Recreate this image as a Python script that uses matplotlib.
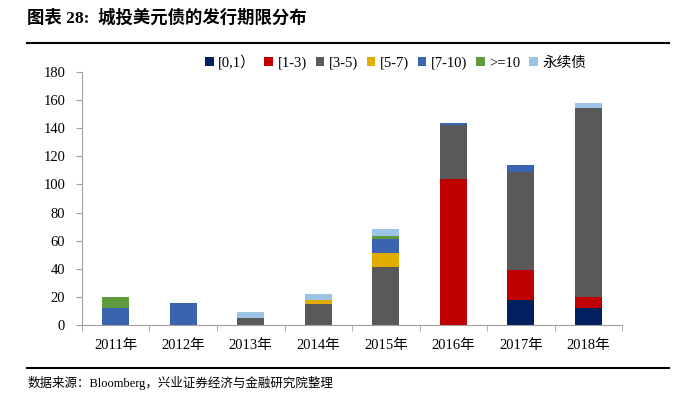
import numpy as np
import matplotlib.pyplot as plt
import matplotlib.lines as mlines

years = ['2011年', '2012年', '2013年', '2014年', '2015年', '2016年', '2017年', '2018年']
series_names = ['[0,1）', '[1-3)', '[3-5)', '[5-7)', '[7-10)', '>=10', '永续债']
v_0_1 = [0, 0, 0, 0, 0, 0, 18, 12]
v_1_3 = [0, 0, 0, 0, 0, 104, 21, 8]
v_3_5 = [0, 0, 5, 15, 41, 38, 70, 134]
v_5_7 = [0, 0, 0, 3, 10, 0, 0, 0]
v_7_10 = [12, 16, 0, 0, 10, 2, 5, 0]
v_10 = [8, 0, 0, 0, 2, 0, 0, 0]
v_perp = [0, 0, 4, 4, 5.5, 0, 0, 4]
colors = ['#002060', '#C00000', '#595959', '#E3AC00', '#3A63B0', '#5E9A3B', '#9DC3E6']

fam = ['Liberation Serif', 'Noto Sans CJK SC']
plt.rcParams['font.family'] = fam

fig = plt.figure(figsize=(7, 3.95), dpi=100)
ax = fig.add_axes([0.117, 0.177, 0.772, 0.641])

x = np.arange(len(years))
bottom = np.zeros(len(years))
for name, vals, c in zip(series_names, [v_0_1, v_1_3, v_3_5, v_5_7, v_7_10, v_10, v_perp], colors):
    ax.bar(x, vals, 0.4, bottom=bottom, color=c, label=name)
    bottom += np.array(vals)

ax.set_xlim(-0.5, len(years) - 0.5)
ax.set_ylim(0, 180)
ax.set_yticks(range(0, 181, 20))
ax.set_xticks(x)
ax.set_xticklabels(years, fontsize=10.5)
ax.set_xticks(np.arange(-0.5, len(years), 1), minor=True)
ax.tick_params(axis='x', which='major', length=0, pad=10)
ax.tick_params(axis='x', which='minor', length=4, direction='out', color='#A0A0A0')
ax.tick_params(axis='y', length=4, direction='out', color='#A0A0A0', labelsize=10.5, pad=8)
for s in ['top', 'right']:
    ax.spines[s].set_visible(False)
ax.spines['left'].set_color('#A0A0A0')
ax.spines['bottom'].set_color('#A0A0A0')

ax.legend(loc='upper center', bbox_to_anchor=(0.58, 1.12), ncol=7, frameon=False,
          handlelength=0.6, handleheight=0.6, handletextpad=0.3, columnspacing=0.6,
          fontsize=10.5)

fig.text(0.039, 0.955, '图表 28:  城投美元债的发行期限分布', fontsize=12.5, fontweight='bold',
         va='center', family=['Liberation Serif', 'Noto Sans CJK SC'])
fig.add_artist(mlines.Line2D([0.039, 0.955], [0.891, 0.891], color='black', lw=1.5))
fig.add_artist(mlines.Line2D([0.039, 0.955], [0.068, 0.068], color='black', lw=1.5))
fig.text(0.039, 0.03, '数据来源：Bloomberg，兴业证券经济与金融研究院整理', fontsize=9, va='center')

fig.savefig('out.png', dpi=100)
